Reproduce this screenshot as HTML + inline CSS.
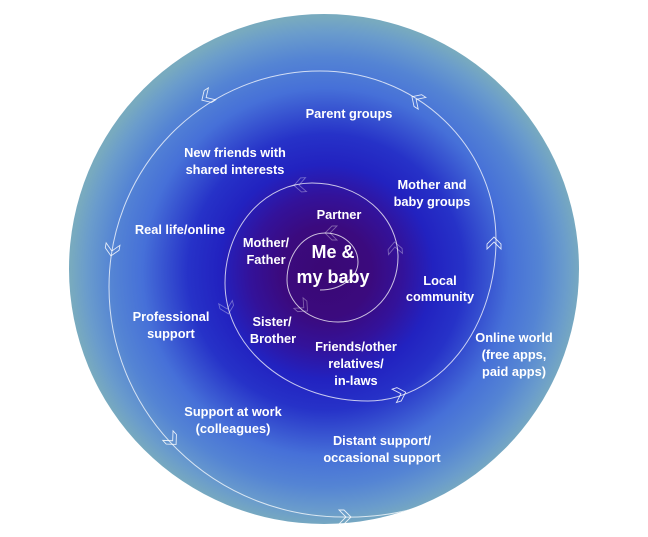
<!DOCTYPE html>
<html>
<head>
<meta charset="utf-8">
<style>
  html, body { margin:0; padding:0; background:#ffffff; }
  body { width:648px; height:537px; overflow:hidden; }
  svg { display:block; }
  .lbl { font-family:"Liberation Sans", sans-serif; font-weight:bold; font-size:12.8px; fill:#ffffff; text-anchor:middle; }
  .big { font-family:"Liberation Sans", sans-serif; font-weight:bold; font-size:18px; fill:#ffffff; text-anchor:middle; }
</style>
</head>
<body>
<svg width="648" height="537" viewBox="0 0 648 537" xmlns="http://www.w3.org/2000/svg">
  <defs>
    <radialGradient id="bg" cx="326" cy="272" r="255" gradientUnits="userSpaceOnUse">
      <stop offset="0" stop-color="#3a0874"/>
      <stop offset="0.18" stop-color="#3b0a7e"/>
      <stop offset="0.3" stop-color="#33129a"/>
      <stop offset="0.42" stop-color="#2222c0"/>
      <stop offset="0.54" stop-color="#2632c8"/>
      <stop offset="0.72" stop-color="#4670d8"/>
      <stop offset="0.84" stop-color="#5484d4"/>
      <stop offset="0.94" stop-color="#6a9ccc"/>
      <stop offset="1" stop-color="#78aabf"/>
    </radialGradient>
    <clipPath id="cc"><circle cx="324" cy="269" r="255"/></clipPath>
    <polygon id="chev" points="-6,-7 -1,-7 6,0 -1,7 -6,7 1,0" fill="none" stroke="#ffffff" stroke-width="0.9" stroke-linejoin="miter"/>
  </defs>

  <circle cx="324" cy="269" r="255" fill="url(#bg)"/>

  <g clip-path="url(#cc)">
    <path d="M 320 290
             A 38 28 0 0 0 358 262
             A 33 29 0 0 0 325 233
             A 38 47 0 0 0 287 280
             A 51 42 0 0 0 338 322
             A 60 65 0 0 0 398 257
             A 86 74 0 0 0 312 183
             A 87 100 0 0 0 225 283
             A 143 118 0 0 0 368 401
             A 128 161 0 0 0 496 240
             A 176 169 0 0 0 320 71
             A 211 216 0 0 0 109 287
             A 234 230 0 0 0 343 517
             A 240 230 0 0 0 420 507"
          fill="none" stroke="#ffffff" stroke-opacity="0.75" stroke-width="1"/>
  </g>

  <!-- outer arrows -->
  <g opacity="0.85">
    <use href="#chev" transform="translate(345,517) rotate(0)"/>
    <use href="#chev" transform="translate(400,394) rotate(-18)"/>
    <use href="#chev" transform="translate(494,243) rotate(-90)"/>
    <use href="#chev" transform="translate(417,100) rotate(-147)"/>
    <use href="#chev" transform="translate(207,97) rotate(148)"/>
    <use href="#chev" transform="translate(112,250) rotate(100)"/>
    <use href="#chev" transform="translate(172,440) rotate(47)"/>
  </g>
  <!-- inner faint arrows -->
  <g opacity="0.35">
    <use href="#chev" transform="translate(300,185) rotate(176)"/>
    <use href="#chev" transform="translate(227,308) rotate(76)"/>
    <use href="#chev" transform="translate(395,248) rotate(-95)"/>
    <use href="#chev" transform="translate(331,233) rotate(180)"/>
    <use href="#chev" transform="translate(303,307) rotate(41)"/>
  </g>

  <!-- labels -->
  <text class="lbl" x="349" y="118">Parent groups</text>
  <text class="lbl" x="235" y="157">New friends with</text>
  <text class="lbl" x="235" y="174">shared interests</text>
  <text class="lbl" x="432" y="189">Mother and</text>
  <text class="lbl" x="432" y="206">baby groups</text>
  <text class="lbl" x="180" y="234">Real life/online</text>
  <text class="lbl" x="339" y="219">Partner</text>
  <text class="lbl" x="266" y="247">Mother/</text>
  <text class="lbl" x="266" y="264">Father</text>
  <text class="big" x="333" y="258">Me &amp;</text>
  <text class="big" x="333" y="283">my baby</text>
  <text class="lbl" x="440" y="285">Local</text>
  <text class="lbl" x="440" y="301">community</text>
  <text class="lbl" x="171" y="321">Professional</text>
  <text class="lbl" x="171" y="338">support</text>
  <text class="lbl" x="272" y="326">Sister/</text>
  <text class="lbl" x="273" y="343">Brother</text>
  <text class="lbl" x="356" y="351">Friends/other</text>
  <text class="lbl" x="356" y="368">relatives/</text>
  <text class="lbl" x="356" y="385">in-laws</text>
  <text class="lbl" x="514" y="342">Online world</text>
  <text class="lbl" x="514" y="359">(free apps,</text>
  <text class="lbl" x="514" y="376">paid apps)</text>
  <text class="lbl" x="233" y="416">Support at work</text>
  <text class="lbl" x="233" y="433">(colleagues)</text>
  <text class="lbl" x="382" y="445">Distant support/</text>
  <text class="lbl" x="382" y="462">occasional support</text>
</svg>
</body>
</html>
